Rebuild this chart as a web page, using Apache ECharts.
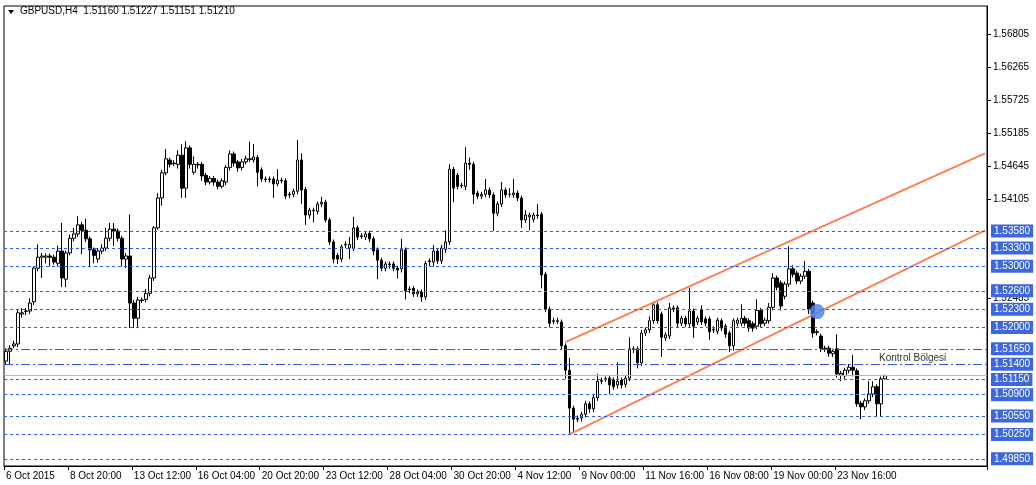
<!DOCTYPE html>
<html>
<head>
<meta charset="utf-8">
<script src="https://cdn.jsdelivr.net/npm/echarts@6/dist/echarts.min.js"></script>
<style>
  html, body { margin: 0; padding: 0; background: #fff; }
  #container { width: 1036px; height: 485px; }
</style>
</head>
<body>
<div id="container"></div>
<script>
// GBPUSD H4 candles, prices in pips (x 0.0001)
var opens = [15145,15161,15170,15173,15222,15226,15227,15242,15297,15315,15315,15317,15315,15305,15325,15279,15322,15346,15353,15368,
  15359,15345,15327,15312,15325,15330,15346,15361,15358,15346,15312,15317,15240,15215,15245,15246,15256,15281,15363,15412,
  15453,15474,15469,15467,15482,15428,15494,15454,15467,15467,15449,15438,15444,15438,15431,15438,15462,15484,15471,15462,
  15471,15476,15474,15478,15458,15443,15443,15443,15435,15441,15440,15418,15418,15423,15474,15426,15384,15392,15390,15402,
  15405,15376,15340,15318,15312,15335,15330,15330,15363,15350,15348,15354,15345,15327,15310,15297,15304,15304,15297,15296,
  15327,15263,15264,15255,15258,15250,15309,15307,15325,15309,15328,15340,15459,15449,15433,15431,15469,15467,15420,15415,
  15418,15425,15417,15387,15402,15425,15418,15417,15420,15412,15376,15381,15377,15384,15385,15287,15230,15211,15211,15209,
  15170,15130,15068,15051,15052,15058,15075,15067,15085,15112,15116,15117,15114,15106,15114,15107,15117,15165,15165,15142,
  15191,15196,15211,15237,15222,15183,15186,15230,15232,15207,15215,15206,15227,15209,15230,15214,15214,15197,15194,15211,
  15202,15191,15170,15207,15207,15215,15211,15206,15202,15228,15207,15211,15233,15281,15273,15251,15271,15296,15289,15276,
  15284,15292,15240,15193,15186,15166,15166,15157,15165,15122,15121,15130,15135,15129,15076,15070,15080,15091,15103,15075,15116];
var closes = [15161,15166,15173,15224,15224,15227,15240,15297,15315,15317,15317,15315,15307,15325,15281,15322,15346,15353,15368,15359,
  15345,15327,15318,15325,15330,15346,15361,15358,15346,15312,15317,15240,15215,15245,15244,15256,15281,15363,15412,15453,
  15476,15467,15468,15482,15428,15494,15467,15467,15466,15448,15438,15444,15438,15431,15440,15462,15484,15469,15461,15471,
  15476,15475,15479,15454,15443,15442,15442,15435,15441,15440,15415,15417,15423,15474,15425,15384,15392,15391,15402,15405,
  15376,15340,15312,15312,15332,15336,15336,15363,15348,15349,15353,15345,15325,15310,15297,15304,15303,15297,15294,15327,
  15260,15262,15255,15258,15250,15305,15308,15325,15309,15330,15340,15459,15428,15431,15432,15469,15467,15418,15415,15418,
  15425,15417,15387,15402,15425,15417,15418,15420,15412,15376,15384,15384,15384,15383,15286,15230,15207,15210,15210,15170,
  15130,15068,15050,15050,15058,15075,15067,15085,15112,15113,15116,15106,15103,15112,15106,15117,15165,15164,15142,15191,
  15196,15211,15237,15211,15184,15188,15232,15232,15207,15215,15206,15227,15202,15215,15209,15207,15193,15196,15212,15199,
  15189,15170,15211,15212,15215,15207,15199,15199,15228,15206,15212,15233,15281,15266,15235,15271,15296,15287,15276,15284,
  15292,15230,15191,15192,15166,15165,15158,15161,15124,15125,15130,15135,15130,15075,15070,15080,15091,15103,15075,15116,15121];
var lows = [15140,15140,15166,15168,15216,15220,15222,15237,15292,15281,15305,15300,15303,15300,15266,15266,15318,15341,15348,15320,
  15340,15300,15305,15306,15320,15325,15341,15333,15341,15300,15297,15199,15199,15199,15240,15241,15251,15276,15360,15399,
  15449,15462,15464,15460,15412,15412,15460,15450,15460,15440,15433,15434,15432,15426,15428,15433,15457,15463,15455,15457,
  15467,15471,15470,15431,15438,15438,15437,15412,15431,15436,15410,15412,15413,15418,15402,15368,15378,15372,15385,15397,
  15372,15335,15305,15304,15307,15330,15312,15325,15343,15345,15343,15340,15318,15279,15292,15292,15296,15292,15280,15290,
  15246,15256,15250,15250,15242,15245,15300,15300,15304,15304,15322,15335,15405,15426,15428,15425,15458,15402,15410,15410,
  15413,15412,15358,15382,15397,15412,15413,15412,15407,15363,15371,15359,15372,15378,15264,15225,15200,15205,15206,15165,
  15116,15025,15028,15045,15046,15053,15060,15062,15080,15107,15111,15091,15098,15100,15100,15102,15112,15158,15133,15137,
  15186,15191,15206,15206,15152,15178,15181,15225,15199,15202,15201,15201,15183,15204,15204,15202,15180,15191,15189,15194,
  15183,15160,15162,15202,15202,15202,15193,15193,15197,15200,15202,15206,15228,15261,15228,15246,15266,15282,15271,15271,
  15279,15222,15183,15187,15160,15160,15152,15152,15118,15112,15116,15125,15120,15070,15050,15065,15075,15086,15055,15055,15115];
var highs = [15166,15171,15178,15230,15232,15232,15248,15300,15336,15322,15321,15321,15319,15334,15371,15326,15352,15363,15382,15373,
  15378,15349,15331,15330,15336,15363,15371,15371,15362,15350,15322,15385,15245,15250,15249,15263,15286,15366,15420,15458,
  15492,15478,15474,15490,15500,15505,15498,15480,15471,15471,15453,15448,15448,15442,15444,15466,15490,15488,15474,15476,
  15481,15504,15500,15482,15462,15447,15447,15447,15459,15445,15444,15422,15427,15507,15485,15430,15396,15396,15406,15414,
  15409,15380,15344,15322,15336,15341,15348,15381,15367,15354,15357,15358,15349,15331,15314,15308,15308,15308,15301,15345,
  15331,15267,15268,15262,15262,15309,15313,15335,15329,15335,15359,15467,15463,15453,15437,15495,15478,15471,15424,15422,
  15443,15429,15421,15406,15438,15429,15428,15443,15424,15416,15392,15388,15388,15402,15389,15291,15234,15216,15216,15213,
  15174,15150,15072,15056,15062,15080,15079,15090,15124,15118,15120,15121,15118,15143,15118,15121,15184,15169,15169,15196,
  15200,15218,15242,15241,15226,15192,15240,15236,15236,15219,15219,15265,15231,15219,15236,15218,15218,15202,15216,15215,
  15206,15195,15215,15216,15238,15219,15215,15210,15246,15232,15216,15240,15289,15285,15277,15275,15333,15302,15293,15288,
  15309,15296,15244,15197,15190,15170,15170,15165,15189,15129,15134,15140,15155,15133,15080,15084,15112,15112,15107,15120,15123];

var xLabels = ['6 Oct 2015','8 Oct 20:00','13 Oct 12:00','16 Oct 04:00','20 Oct 20:00','23 Oct 12:00','28 Oct 04:00',
  '30 Oct 20:00','4 Nov 12:00','9 Nov 00:00','11 Nov 16:00','16 Nov 08:00','19 Nov 00:00','23 Nov 16:00'];
var yTicks = [1.56805, 1.56265, 1.55725, 1.55185, 1.54645, 1.54105, 1.52485];
var levels = [1.5358, 1.5330, 1.5300, 1.5260, 1.5230, 1.5200, 1.5115, 1.5090, 1.5055, 1.5025, 1.4985];
var dashDotLevels = [1.5165, 1.5140];
var lastPrice = 1.5121;
var channelUpper = [[140, 1.5176], [245, 1.5485]];
var channelLower = [[141, 1.5025], [245, 1.5359]];
var touchPoint = [[203, 1.5226]];
var barCount = 246;

var dom = document.getElementById('container');
var myChart = echarts.init(dom);

var cats = [];
for (var i = 0; i < barCount; i++) cats.push(String(i));
var candles = [];
for (var k = 0; k < opens.length; k++) {
  candles.push([opens[k] / 10000, closes[k] / 10000, lows[k] / 10000, highs[k] / 10000]);
}

var lineCol = '#2e5de0';
var levelLines = levels.map(function (v) {
  return { yAxis: v, lineStyle: { type: [3, 3] } };
});
dashDotLevels.forEach(function (v) {
  levelLines.push({ yAxis: v, lineStyle: { type: [9, 3, 2, 3] } });
});
levelLines.push({
  yAxis: lastPrice,
  lineStyle: { type: 'solid', color: '#b8b8b8' },
  label: { show: false }
});

var font = 'Liberation Sans';
var showTick = function (idx) { return idx % 16 === 0 && idx / 16 < xLabels.length; };

var option = {
  animation: false,
  backgroundColor: '#fff',
  textStyle: { fontFamily: font },
  grid: { left: 4, right: 49, top: 6, bottom: 19, show: true, borderColor: '#000', borderWidth: 1 },
  xAxis: {
    type: 'category',
    data: cats,
    boundaryGap: true,
    axisLine: { lineStyle: { color: '#000' } },
    axisTick: { show: true, length: 4, lineStyle: { color: '#000' }, interval: showTick },
    axisLabel: {
      color: '#000', fontSize: 10, fontFamily: font, align: 'left', margin: 5,
      hideOverlap: false, interval: showTick,
      formatter: function (val, idx) { return xLabels[idx / 16] || ''; }
    },
    splitLine: { show: false }
  },
  yAxis: {
    type: 'value',
    position: 'right',
    min: 1.49733,
    max: 1.57261,
    axisLine: { show: true, lineStyle: { color: '#000' } },
    axisTick: { show: true, length: 4, customValues: yTicks, lineStyle: { color: '#000' } },
    axisLabel: {
      color: '#000', fontSize: 10, fontFamily: font, margin: 6, customValues: yTicks,
      formatter: function (v) { return v.toFixed(5); }
    },
    splitLine: { show: false }
  },
  series: [
    {
      type: 'candlestick',
      data: candles,
      barWidth: 3,
      itemStyle: { color: '#fff', color0: '#000', borderColor: '#000', borderColor0: '#000', borderWidth: 1 },
      markLine: {
        silent: true,
        symbol: 'none',
        precision: 5,
        lineStyle: { color: lineCol, width: 1 },
        label: {
          show: true, position: 'end', distance: 4,
          formatter: function (p) { return Number(p.value).toFixed(5); },
          color: '#fff', backgroundColor: '#3d67dc', fontSize: 10, fontFamily: font, padding: [2, 3, 1, 3]
        },
        data: levelLines
      },
      z: 3
    },
    {
      type: 'line', data: channelUpper, showSymbol: false, silent: true,
      lineStyle: { color: '#ff7f50', width: 2 }, z: 4
    },
    {
      type: 'line', data: channelLower, showSymbol: false, silent: true,
      lineStyle: { color: '#ff7f50', width: 2 }, z: 4
    },
    {
      type: 'scatter', data: touchPoint, symbolSize: 15, silent: true,
      itemStyle: { color: '#4f86e6', opacity: 0.85 }, z: 5
    }
  ],
  graphic: [
    { type: 'polygon', shape: { points: [[8, 10], [14, 10], [11, 14]] }, style: { fill: '#000' } },
    {
      type: 'text', left: 20, top: 6,
      style: { text: 'GBPUSD,H4  1.51160 1.51227 1.51151 1.51210', fill: '#000', font: '10px Liberation Sans' }
    },
    {
      type: 'text', left: 879, top: 353,
      style: { text: 'Kontrol Bölgesi', fill: '#333', font: '10px Liberation Sans' }
    }
  ]
};

if (option && typeof option === 'object') {
  myChart.setOption(option, true);
}
</script>
</body>
</html>
